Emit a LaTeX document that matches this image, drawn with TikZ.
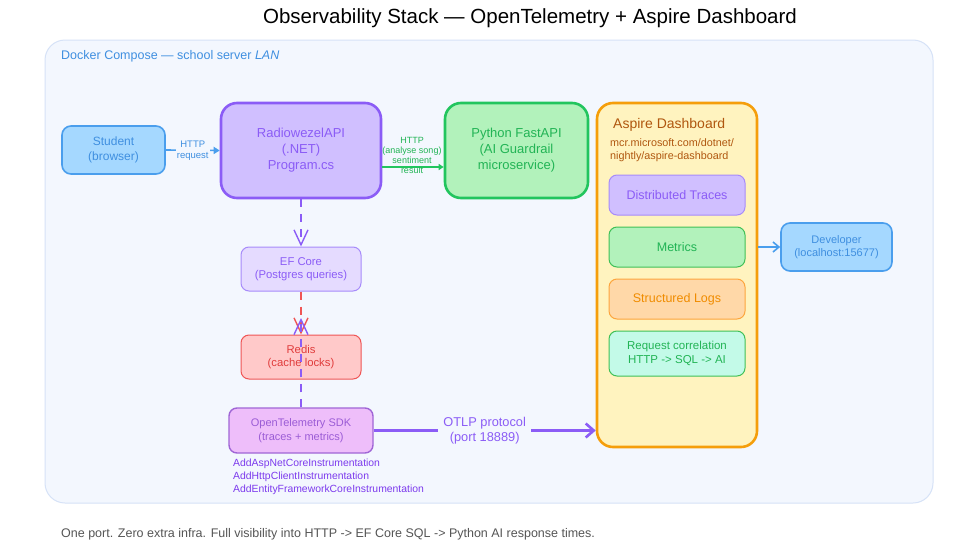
\documentclass[tikz,border=0pt]{standalone}
\usepackage{fontspec}
\setmainfont{Liberation Sans}
\usetikzlibrary{arrows.meta}
\definecolor{contfill}{HTML}{F3F7FE}
\definecolor{contdraw}{HTML}{D6E2F7}
\definecolor{bluefill}{HTML}{A5D8FF}
\definecolor{bluedraw}{HTML}{4A9EED}
\definecolor{bluetext}{HTML}{3F8FE0}
\definecolor{purfill}{HTML}{D0BFFF}
\definecolor{purdraw}{HTML}{8B5CF6}
\definecolor{purtext}{HTML}{8B5CF6}
\definecolor{lpurfill}{HTML}{E5DBFF}
\definecolor{lpurdraw}{HTML}{A78BFA}
\definecolor{grnfill}{HTML}{B2F2BB}
\definecolor{grndraw}{HTML}{22C55E}
\definecolor{grntext}{HTML}{22B455}
\definecolor{yelfill}{HTML}{FFF3BF}
\definecolor{orgdraw}{HTML}{F59E0B}
\definecolor{browntext}{HTML}{B0570F}
\definecolor{redfill}{HTML}{FFC9C9}
\definecolor{reddraw}{HTML}{EF5555}
\definecolor{redtext}{HTML}{E03C3C}
\definecolor{magfill}{HTML}{EEBEFA}
\definecolor{magdraw}{HTML}{A066D6}
\definecolor{magtext}{HTML}{9B5CD6}
\definecolor{codetext}{HTML}{7C3AED}
\definecolor{orgfill}{HTML}{FFD8A8}
\definecolor{orgbdraw}{HTML}{FDA53D}
\definecolor{orgtext}{HTML}{F08C00}
\definecolor{mintfill}{HTML}{C3FAE8}
\definecolor{mintdraw}{HTML}{40C057}
\definecolor{foottext}{HTML}{555555}
\tikzset{
  box/.style={draw, rounded corners=#1, inner sep=0pt, align=center},
  box/.default=8pt,
  fs/.style 2 args={font=\fontsize{#1}{#2}\selectfont},
  lbl/.style={fill=contfill, inner sep=1pt, align=center},
  tipv/.style={-{Straight Barb[length=15pt,width=14pt]}},
}
\begin{document}
\begin{tikzpicture}[x=1pt,y=-1pt]
\useasboundingbox (0,0) rectangle (968,554);
\fill[white] (0,0) rectangle (968,554);
% title
\node[fs={20.5}{24}] (title) at (530,18) {Observability Stack — OpenTelemetry + Aspire Dashboard};
% container
\node[box=20pt, fill=contfill, draw=contdraw, line width=1pt, minimum width=888pt, minimum height=463pt] (cont) at (489,271.5) {};
\node[anchor=west, text=bluetext, fs={12.5}{14}, inner sep=0pt] (contlbl) at (61,56) {Docker Compose — school server \textit{LAN}};
% main nodes
\node[box=9pt, fill=bluefill, draw=bluedraw, line width=1.6pt, minimum width=103pt, minimum height=48pt, text=bluetext, fs={12}{15}] (student) at (113.5,150) {Student\\(browser)};
\node[box=16pt, fill=purfill, draw=purdraw, line width=2.6pt, minimum width=160pt, minimum height=95pt, text=purtext, fs={13}{16}] (api) at (301,150.5) {RadiowezelAPI\\(.NET)\\Program.cs};
\node[box=16pt, fill=grnfill, draw=grndraw, line width=2.6pt, minimum width=143pt, minimum height=95pt, text=grntext, fs={13}{16}] (fast) at (516.5,150.5) {Python FastAPI\\(AI Guardrail\\microservice)};
\node[box=8pt, fill=lpurfill, draw=lpurdraw, line width=1pt, minimum width=120pt, minimum height=44pt, text=purtext, fs={11.3}{13.5}] (ef) at (301,269) {EF Core\\(Postgres queries)};
\node[box=8pt, fill=redfill, draw=reddraw, line width=1pt, minimum width=120pt, minimum height=44pt, text=redtext, fs={11.3}{13.5}] (redis) at (301,357) {Redis\\(cache locks)};
\node[box=8pt, fill=magfill, draw=magdraw, line width=1.4pt, minimum width=144pt, minimum height=45pt, text=magtext, fs={11}{14}] (sdk) at (301,430.5) {OpenTelemetry SDK\\(traces + metrics)};
\node[anchor=north west, inner sep=0pt, align=left, text=codetext, fs={10.4}{13}] (code) at (233,459) {AddAspNetCoreInstrumentation\\AddHttpClientInstrumentation\\AddEntityFrameworkCoreInstrumentation};
% aspire
\node[box=16pt, fill=yelfill, draw=orgdraw, line width=2.6pt, minimum width=160pt, minimum height=344pt] (aspire) at (677,275) {};
\node[anchor=west, inner sep=0pt, text=browntext, fs={14}{16}] (asptitle) at (613,125) {Aspire Dashboard};
\node[anchor=north west, inner sep=0pt, align=left, text=browntext, fs={10.8}{13}] (aspurl) at (610,138) {mcr.microsoft.com/dotnet/\\nightly/aspire-dashboard};
\node[box=8pt, fill=purfill, draw=lpurdraw, line width=1pt, minimum width=136pt, minimum height=40pt, text=purtext, fs={12.5}{14}] (traces) at (677,195) {Distributed Traces};
\node[box=8pt, fill=grnfill, draw=mintdraw, line width=1pt, minimum width=136pt, minimum height=40pt, text=grntext, fs={12.5}{14}] (metrics) at (677,247) {Metrics};
\node[box=8pt, fill=orgfill, draw=orgbdraw, line width=1pt, minimum width=136pt, minimum height=40pt, text=orgtext, fs={12.5}{14}] (logs) at (677,299) {Structured Logs};
\node[box=8pt, fill=mintfill, draw=mintdraw, line width=1pt, minimum width=136pt, minimum height=45pt, text=grntext, fs={11.5}{14}] (corr) at (677,353.5) {Request correlation\\HTTP -> SQL -> AI};
\node[box=9pt, fill=bluefill, draw=bluedraw, line width=1.6pt, minimum width=111pt, minimum height=48pt, text=bluetext, fs={11}{13.5}] (dev) at (836.5,247) {Developer\\(localhost:15677)};
% connectors
\draw[bluedraw, line width=1.6pt, -{Triangle[length=6pt,width=7pt]}] (student.east) -- (api.west)
  node[midway, lbl, text=bluetext, fs={9.5}{11}] (httpreq) {HTTP\\request};
\draw[grndraw, line width=1.6pt, -{Triangle[length=5pt,width=6pt]}] ([yshift=-16.5pt]api.east) -- ([yshift=-16.5pt]fast.west);
\node[text=grntext, fs={9}{10}, inner sep=0pt, align=center] (httpan) at (412,155) {HTTP\\(analyse song)\\sentiment\\result};
\draw[purdraw, line width=1.4pt, dash pattern=on 8pt off 7pt, tipv] (api.south) -- (ef.north);
\draw[reddraw, line width=1.4pt, dash pattern=on 8pt off 7pt, tipv] (ef.south) -- (redis.north);
\coordinate (sdkend) at (301,318);
\draw[purdraw, line width=1.4pt, dash pattern=on 8pt off 7pt, tipv] (sdk.north) -- (sdkend);
\draw[purdraw, line width=2.6pt, -{Straight Barb[length=8pt,width=14pt]}] (sdk.east) -- (sdk.east -| aspire.west)
  node[midway, lbl, text=purtext, fs={12.8}{14.5}, inner sep=5pt] (otlp) {OTLP protocol\\(port 18889)};
\draw[bluedraw, line width=1.6pt, -{Straight Barb[length=6pt,width=10pt]}] (aspire.east |- dev.west) -- (dev.west);
% footer
\node[anchor=west, inner sep=0pt, text=foottext, fs={12.5}{14}] (foot) at (61,534) {One port. Zero extra infra. Full visibility into HTTP -> EF Core SQL -> Python AI response times.};
\end{tikzpicture}
\end{document}
